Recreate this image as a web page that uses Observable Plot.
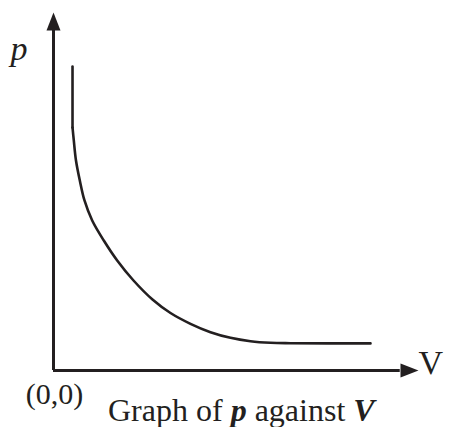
<!DOCTYPE html>
<html>
<head>
<meta charset="utf-8">
<script src="https://cdn.jsdelivr.net/npm/d3@7"></script>
<script src="https://cdn.jsdelivr.net/npm/@observablehq/plot@0.6"></script>
<style>
  html, body { margin: 0; padding: 0; background: #fff; }
</style>
</head>
<body>
<div id="chart"></div>
<script>
// Axis extents (abstract units)
const vDomain = [0, 10];
const pDomain = [0, 10];

// Vertical start of the curve
const startV = [0.521, 0.521];
const startP = [8.49, 6.788];

// Hyperbola-like p against V curve
const curveV = [0.521, 0.556, 0.616, 0.721, 0.849, 1.060, 1.378, 1.745, 2.192, 2.712, 3.205, 3.753, 4.301, 4.849, 5.397, 5.945, 6.493, 8.685];
const curveP = [6.788, 6.425, 5.866, 5.307, 4.749, 4.190, 3.631, 3.073, 2.514, 1.983, 1.606, 1.304, 1.070, 0.913, 0.818, 0.774, 0.763, 0.757];

// Labels
const yLabel = "p";
const xLabel = "V";
const originLabel = "(0,0)";
const captionParts = [
  {t: "Graph of ", style: "normal", weight: "normal"},
  {t: "p", style: "italic", weight: "bold"},
  {t: " against ", style: "normal", weight: "normal"},
  {t: "V", style: "italic", weight: "bold"}
];

const ink = "#231f20";
const serif = "Liberation Serif, Times New Roman, serif";

const startData = startV.map((v, i) => ({v, p: startP[i]}));
const curveData = curveV.map((v, i) => ({v, p: curveP[i]}));

// Filled arrowhead symbol, tip at origin pointing up
const arrowHead = {
  draw(context, size) {
    const L = 18, W = 7;
    context.moveTo(0, 0);
    context.lineTo(W, L);
    context.lineTo(-W, L);
    context.closePath();
  }
};

const plot = Plot.plot({
  width: 452,
  height: 427,
  marginLeft: 53,
  marginRight: 34,
  marginTop: 12,
  marginBottom: 57,
  x: {domain: vDomain, axis: null},
  y: {domain: pDomain, axis: null},
  style: {background: "#fff", fontFamily: serif},
  marks: [
    Plot.ruleX([0], {y1: 0, y2: 9.5, stroke: ink, strokeWidth: 3}),
    Plot.ruleY([0], {x1: 0, x2: 9.5, stroke: ink, strokeWidth: 3}),
    Plot.dot([{v: 0, p: pDomain[1]}], {x: "v", y: "p", symbol: arrowHead, fill: ink, stroke: "none", r: 8}),
    Plot.dot([{v: vDomain[1], p: 0}], {x: "v", y: "p", symbol: arrowHead, fill: ink, stroke: "none", r: 8, rotate: 90}),
    Plot.line(startData, {x: "v", y: "p", stroke: ink, strokeWidth: 2.6}),
    Plot.line(curveData, {x: "v", y: "p", stroke: ink, strokeWidth: 2.6, curve: "catmull-rom"}),
    Plot.text([yLabel], {x: 0, y: pDomain[1], dx: -34.5, dy: 37, fontSize: 34, fontStyle: "italic", fill: ink, fontFamily: serif}),
    Plot.text([xLabel], {x: vDomain[1], y: 0, dx: 0, dy: -7.8, textAnchor: "start", fontSize: 34, fill: ink, fontFamily: serif}),
    Plot.text([originLabel], {x: 0, y: 0, dx: 1, dy: 23.4, fontSize: 30, fill: ink, fontFamily: serif})
  ]
});

document.getElementById("chart").appendChild(plot);

// Caption with mixed styling as real text
const svg = d3.select(plot);
const cap = svg.append("text")
  .attr("x", 108)
  .attr("y", 421)
  .attr("text-anchor", "start")
  .attr("fill", ink)
  .attr("xml:space", "preserve")
  .style("font-family", serif)
  .style("font-size", "32px");
captionParts.forEach(part => {
  cap.append("tspan")
    .style("font-style", part.style)
    .style("font-weight", part.weight)
    .style("white-space", "pre")
    .text(part.t);
});
</script>
</body>
</html>
